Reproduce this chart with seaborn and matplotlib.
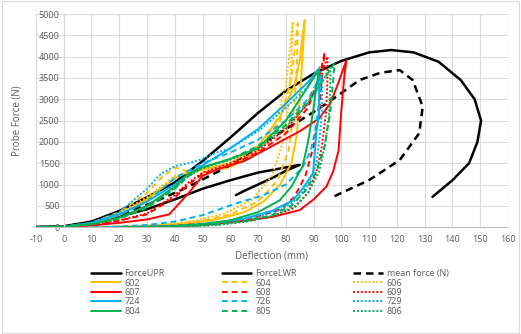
import pandas as pd
import matplotlib
matplotlib.use("Agg")
import matplotlib.pyplot as plt
import seaborn as sns

# Force-deflection curves, values
upr_x = [-10, 0, 10, 20, 30, 40, 50, 60, 70, 80, 90, 100, 110, 118, 126, 135, 143, 148, 150.3, 149, 146, 140, 132.8]
upr_y = [0, 20, 130, 380, 700, 1050, 1550, 2100, 2680, 3200, 3600, 3900, 4100, 4155, 4100, 3880, 3450, 3000, 2500, 2000, 1500, 1100, 710]

lwr_x = [-10, 0, 10, 20, 30, 40, 50, 60, 70, 80, 85, 80, 75, 70, 65, 62]
lwr_y = [0, 10, 120, 250, 420, 650, 900, 1100, 1280, 1400, 1460, 1320, 1150, 1000, 850, 750]

mean_x = [-10, 0, 10, 20, 33, 45, 60, 75, 90, 96.4, 106.5, 114, 121, 125.7, 129.3, 128, 121, 110, 97]
mean_y = [0, 10, 90, 280, 600, 950, 1450, 2100, 2700, 2980, 3450, 3620, 3685, 3450, 2825, 2200, 1573, 1103, 711]

s602_x = [-10, 0, 10, 20, 30, 40, 45, 50, 60, 70, 78, 83, 85, 86, 86.8, 86, 85, 84, 82, 78, 72, 65, 55, 45, 35, 25, 15]
s602_y = [0, 10, 80, 280, 650, 1150, 1300, 1350, 1500, 1900, 2600, 3300, 3900, 4500, 4860, 4000, 3000, 2200, 1500, 1000, 600, 350, 180, 90, 40, 15, 5]
s604_x = [-10, 0, 10, 20, 30, 35, 40, 45, 50, 60, 70, 78, 82, 84.3, 84, 83, 81, 77, 70, 60, 50, 40, 30, 20, 10]
s604_y = [0, 10, 100, 350, 800, 1150, 1400, 1300, 1280, 1400, 1800, 2500, 3500, 4780, 3800, 2800, 1800, 1100, 600, 300, 150, 70, 30, 10, 0]
s606_x = [-10, 0, 10, 20, 30, 40, 50, 60, 70, 76, 80, 82.5, 82, 81, 79, 75, 68, 58, 48, 38, 28, 18]
s606_y = [0, 10, 90, 320, 700, 1200, 1350, 1450, 1750, 2400, 3300, 4820, 3900, 2900, 2000, 1200, 650, 320, 160, 70, 25, 5]

s607_x = [-10, 0, 10, 20, 30, 38, 45, 50, 55, 65, 75, 85, 92, 96, 99, 101.8, 101, 100, 99, 97, 94.6, 90, 85, 75.3, 65, 55, 45, 35, 25]
s607_y = [0, 5, 40, 100, 180, 300, 800, 1200, 1350, 1550, 1900, 2250, 2550, 2900, 3400, 3920, 3500, 2750, 1800, 1300, 950, 650, 400, 240, 150, 80, 35, 10, 0]
s608_x = [-10, 0, 10, 20, 30, 40, 45, 50, 60, 70, 80, 88, 92, 94, 93, 92, 90, 87, 83, 78, 70, 60, 50, 40, 30, 20]
s608_y = [0, 5, 50, 150, 300, 700, 1000, 1250, 1450, 1750, 2200, 2800, 3500, 4100, 3500, 2700, 1900, 1200, 700, 420, 250, 150, 80, 35, 10, 0]
s609_x = [-10, 0, 10, 20, 30, 40, 45, 50, 60, 70, 80, 88, 93, 95, 95, 94.5, 93, 91, 88, 83, 75, 65, 55, 45, 35, 25]
s609_y = [0, 5, 60, 160, 320, 750, 1050, 1280, 1500, 1800, 2300, 2900, 3600, 4000, 3500, 2700, 1900, 1300, 800, 450, 250, 140, 70, 30, 10, 0]

s724_x = [-10, 0, 10, 20, 30, 40, 45, 50, 60, 70, 80, 88, 91.5, 92, 92, 91, 89.8, 86, 82.6, 75, 65, 55, 45, 35, 25, 15]
s724_y = [0, 10, 100, 300, 600, 1000, 1250, 1450, 1850, 2300, 2900, 3400, 3690, 3300, 2700, 2200, 1260, 900, 630, 380, 200, 100, 45, 15, 5, 0]
s726_x = [-10, 0, 10, 20, 30, 40, 50, 60, 70, 80, 88, 93, 92, 91, 89, 86, 80, 72, 62, 50, 40, 30, 20, 10]
s726_y = [0, 10, 90, 280, 600, 1150, 1500, 1750, 2050, 2500, 3000, 3600, 3000, 2400, 1800, 1400, 1000, 750, 555, 280, 130, 50, 15, 0]
s729_x = [-10, 0, 10, 20, 30, 35, 40, 45, 50, 55, 60, 70, 80, 88, 92, 93, 93, 92, 91, 88, 84, 78, 70, 60, 50, 40, 30, 20]
s729_y = [0, 10, 100, 350, 900, 1250, 1430, 1500, 1600, 1750, 1850, 2250, 2800, 3300, 3750, 3300, 2700, 2000, 1500, 1000, 650, 400, 250, 140, 70, 30, 10, 0]

s804_x = [-10, 0, 10, 20, 30, 40, 45, 50, 60, 70, 80, 86, 90, 92, 91, 90, 88, 86, 82, 77.8, 70, 60, 50, 40, 30, 20]
s804_y = [0, 10, 70, 220, 500, 950, 1250, 1400, 1600, 1850, 2500, 3100, 3500, 3690, 3300, 2800, 2000, 1420, 950, 630, 350, 160, 70, 25, 5, 0]
s805_x = [-10, 0, 10, 20, 30, 40, 45, 50, 60, 70, 80, 88, 94, 97.5, 97, 96, 94, 91, 87, 82, 75, 65, 55, 45, 35, 25]
s805_y = [0, 10, 60, 200, 450, 900, 1200, 1400, 1600, 1900, 2400, 2950, 3500, 3840, 3400, 2700, 1900, 1300, 850, 500, 280, 140, 60, 20, 5, 0]
s806_x = [-10, 0, 10, 20, 30, 40, 45, 50, 60, 70, 80, 88, 93, 96, 96, 95.5, 94, 92, 88, 83, 76, 66, 56, 46, 36, 26]
s806_y = [0, 10, 70, 210, 480, 920, 1200, 1380, 1580, 1850, 2350, 2900, 3400, 3750, 3300, 2600, 1900, 1300, 800, 480, 270, 130, 55, 18, 5, 0]

YEL, RED, BLU, GRN = "#FFC000", "#FF0000", "#00B0F0", "#00B050"

series = [
    ("ForceUPR", upr_x, upr_y, "black", "-"),
    ("ForceLWR", lwr_x, lwr_y, "black", "-"),
    ("mean force (N)", mean_x, mean_y, "black", (0, (3, 2))),
    ("602", s602_x, s602_y, YEL, "-"),
    ("604", s604_x, s604_y, YEL, (0, (3, 2))),
    ("606", s606_x, s606_y, YEL, (0, (1, 1))),
    ("607", s607_x, s607_y, RED, "-"),
    ("608", s608_x, s608_y, RED, (0, (3, 2))),
    ("609", s609_x, s609_y, RED, (0, (1, 1))),
    ("724", s724_x, s724_y, BLU, "-"),
    ("726", s726_x, s726_y, BLU, (0, (3, 2))),
    ("729", s729_x, s729_y, BLU, (0, (1, 1))),
    ("804", s804_x, s804_y, GRN, "-"),
    ("805", s805_x, s805_y, GRN, (0, (3, 2))),
    ("806", s806_x, s806_y, GRN, (0, (1, 1))),
]

sns.set_style("white")
plt.rcParams['font.family'] = ['Open Sans', 'DejaVu Sans']
plt.rcParams['axes.unicode_minus'] = False
txt = "#595959"

fig = plt.figure(figsize=(5.21, 3.34), dpi=100)
ax = fig.add_axes([0.069, 0.320, 0.906, 0.638])

handles = {}
for name, xs, ys, col, ls in series:
    df = pd.DataFrame({"x": xs, "y": ys})
    lw = 1.8 if col == "black" else 1.4
    sns.lineplot(data=df, x="x", y="y", sort=False, estimator=None, color=col,
                 linestyle=ls, linewidth=lw, ax=ax, label=name, legend=False)
    handles[name] = ax.lines[-1]

ax.set_xlim(-10, 160)
ax.set_ylim(0, 5000)
ax.set_xticks(range(-10, 161, 10))
ax.set_yticks(range(0, 5001, 500))
ax.grid(True, color="#D9D9D9", linewidth=0.8)
ax.set_axisbelow(True)
for s in ["top", "right"]:
    ax.spines[s].set_visible(False)
# vertical axis crosses at x = 0, as in the spreadsheet chart
ax.spines["left"].set_position(("data", 0))
ax.spines["left"].set_color("#D9D9D9")
ax.spines["left"].set_linewidth(0.8)
ax.spines["bottom"].set_color("#BFBFBF")
ax.tick_params(axis="both", labelsize=6.5, colors=txt, length=0)
ax.tick_params(axis="x", pad=6)
ax.tick_params(axis="y", pad=3)
ax.set_xlabel("Deflection (mm)", fontsize=7, color=txt, labelpad=4)
ax.set_ylabel("Probe Force (N)", fontsize=7, color=txt)
ax.yaxis.set_label_coords(-0.028, 0.5)

order = ["ForceUPR", "602", "607", "724", "804",
         "ForceLWR", "604", "608", "726", "805",
         "mean force (N)", "606", "609", "729", "806"]
leg = fig.legend([handles[n] for n in order], order, loc="upper left",
                 bbox_to_anchor=(0.168, 0.205), ncol=3, frameon=False,
                 fontsize=6.5, handlelength=3.3, handletextpad=0.4,
                 columnspacing=6.3, labelspacing=0.05, borderaxespad=0)
for t in leg.get_texts():
    t.set_color(txt)

fig.patches.append(plt.Rectangle((0.003, 0.003), 0.994, 0.994, transform=fig.transFigure,
                                 fill=False, edgecolor="#D9D9D9", linewidth=0.8))

fig.savefig("out.png", dpi=100)
